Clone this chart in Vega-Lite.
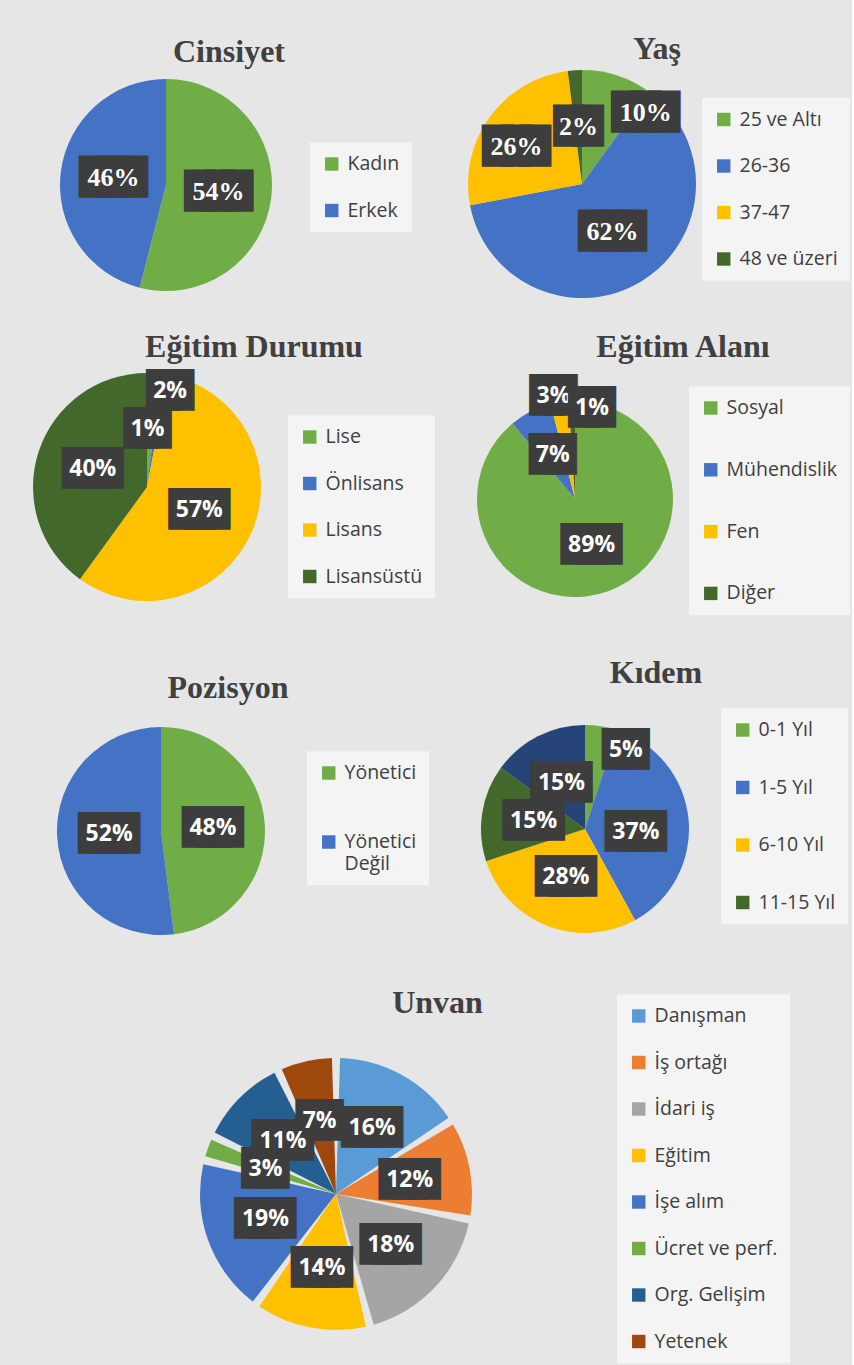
{
  "$schema": "https://vega.github.io/schema/vega-lite/v6.json",
  "background": "#e6e6e6",
  "padding": {"left": 7, "top": 33, "right": 2, "bottom": 12},
  "columns": 2,
  "align": "none",
  "bounds": "flush",
  "spacing": {"row": 64, "column": -345},
  "resolve": {"scale": {"color": "independent", "theta": "independent"}, "legend": {"color": "independent"}},
  "datasets": {
    "cinsiyet": [{"c": "Kadın", "v": 0.54, "k": 1}, {"c": "Erkek", "v": 0.46, "k": 2}],
    "yas": [{"c": "25 ve Altı", "v": 0.10, "k": 1}, {"c": "26-36", "v": 0.62, "k": 2}, {"c": "37-47", "v": 0.26, "k": 3}, {"c": "48 ve üzeri", "v": 0.02, "k": 4}],
    "egitimDurumu": [{"c": "Lise", "v": 0.02, "k": 1}, {"c": "Önlisans", "v": 0.01, "k": 2}, {"c": "Lisans", "v": 0.57, "k": 3}, {"c": "Lisansüstü", "v": 0.40, "k": 4}],
    "egitimAlani": [{"c": "Sosyal", "v": 0.89, "k": 1}, {"c": "Mühendislik", "v": 0.07, "k": 2}, {"c": "Fen", "v": 0.03, "k": 3}, {"c": "Diğer", "v": 0.01, "k": 4}],
    "pozisyon": [{"c": "Yönetici", "v": 0.48, "k": 1}, {"c": "Yönetici Değil", "v": 0.52, "k": 2}],
    "kidem": [{"c": "0-1 Yıl", "v": 0.05, "k": 1}, {"c": "1-5 Yıl", "v": 0.37, "k": 2}, {"c": "6-10 Yıl", "v": 0.28, "k": 3}, {"c": "11-15 Yıl", "v": 0.15, "k": 4}, {"c": "16 Yıl ve üzeri", "v": 0.15, "k": 5}],
    "unvan": [{"c": "Danışman", "v": 0.16, "k": 1}, {"c": "İş ortağı", "v": 0.12, "k": 2}, {"c": "İdari iş", "v": 0.18, "k": 3}, {"c": "Eğitim", "v": 0.14, "k": 4}, {"c": "İşe alım", "v": 0.19, "k": 5}, {"c": "Ücret ve perf.", "v": 0.03, "k": 6}, {"c": "Org. Gelişim", "v": 0.11, "k": 7}, {"c": "Yetenek", "v": 0.07, "k": 8}]
  },
  "concat": [
    {
      "width": 318, "height": 232,
      "title": {"text": "Cinsiyet", "dx": 63, "offset": 0},
      "data": {"name": "cinsiyet"},
      "encoding": {"theta": {"field": "v", "type": "quantitative", "stack": true}, "order": {"field": "k", "type": "quantitative"}},
      "layer": [
        {"mark": {"type": "arc", "radius": 106},
         "encoding": {"color": {"field": "c", "type": "nominal", "scale": {"domain": ["Kadın", "Erkek"], "range": ["#70AD47", "#4472C4"]}, "legend": {"title": null, "legendX": 303, "legendY": 73.25, "rowPadding": 25.5}}}},
        {"mark": {"type": "text", "radius": 53, "font": "DejaVu Sans", "fontSize": 24.2, "color": "#3d3d3d", "stroke": "#3d3d3d", "strokeWidth": 13.4, "strokeJoin": "miter"},
         "encoding": {"detail": {"field": "c", "type": "nominal"}, "text": {"condition": {"test": "datum.v < 0.1", "value": "██"}, "value": "███"}}},
        {"mark": {"type": "text", "radius": 53, "font": "Liberation Serif", "fontWeight": "bold", "fontSize": 26, "color": "white"},
         "encoding": {"detail": {"field": "c", "type": "nominal"}, "text": {"field": "v", "type": "quantitative", "format": ".0%"}}}
      ]
    },
    {
      "width": 524, "height": 230,
      "title": {"text": "Yaş", "dx": 75, "offset": 3},
      "data": {"name": "yas"},
      "encoding": {"theta": {"field": "v", "type": "quantitative", "stack": true}, "order": {"field": "k", "type": "quantitative"}},
      "layer": [
        {"mark": {"type": "arc", "radius": 114},
         "encoding": {"color": {"field": "c", "type": "nominal", "scale": {"domain": ["25 ve Altı", "26-36", "37-47", "48 ve üzeri"], "range": ["#70AD47", "#4472C4", "#FFC000", "#43682B"]}, "legend": {"title": null, "legendX": 382, "legendY": 28.75, "rowPadding": 25.5}}}},
        {"mark": {"type": "text", "radius": 57, "font": "DejaVu Sans", "fontSize": 24.2, "color": "#3d3d3d", "stroke": "#3d3d3d", "strokeWidth": 13.4, "strokeJoin": "miter"},
         "encoding": {"detail": {"field": "c", "type": "nominal"}, "opacity": {"condition": {"test": "datum.c == '26-36' || datum.c == '48 ve üzeri'", "value": 1}, "value": 0}, "text": {"condition": {"test": "datum.v < 0.1", "value": "██"}, "value": "███"}}},
        {"mark": {"type": "text", "radius": 57, "font": "Liberation Serif", "fontWeight": "bold", "fontSize": 26, "color": "white"},
         "encoding": {"detail": {"field": "c", "type": "nominal"}, "opacity": {"condition": {"test": "datum.c == '26-36' || datum.c == '48 ve üzeri'", "value": 1}, "value": 0}, "text": {"field": "v", "type": "quantitative", "format": ".0%"}}},
        {"mark": {"type": "text", "radius": 75, "thetaOffset": -0.12, "font": "DejaVu Sans", "fontSize": 24.2, "color": "#3d3d3d", "stroke": "#3d3d3d", "strokeWidth": 13.4, "strokeJoin": "miter"},
         "encoding": {"detail": {"field": "c", "type": "nominal"}, "opacity": {"condition": {"test": "datum.c == '37-47'", "value": 1}, "value": 0}, "text": {"condition": {"test": "datum.v < 0.1", "value": "██"}, "value": "███"}}},
        {"mark": {"type": "text", "radius": 75, "thetaOffset": -0.12, "font": "Liberation Serif", "fontWeight": "bold", "fontSize": 26, "color": "white"},
         "encoding": {"detail": {"field": "c", "type": "nominal"}, "opacity": {"condition": {"test": "datum.c == '37-47'", "value": 1}, "value": 0}, "text": {"field": "v", "type": "quantitative", "format": ".0%"}}},
        {"mark": {"type": "text", "radius": 95, "thetaOffset": 0.42, "font": "DejaVu Sans", "fontSize": 24.2, "color": "#3d3d3d", "stroke": "#3d3d3d", "strokeWidth": 13.4, "strokeJoin": "miter"},
         "encoding": {"detail": {"field": "c", "type": "nominal"}, "opacity": {"condition": {"test": "datum.c == '25 ve Altı'", "value": 1}, "value": 0}, "text": {"condition": {"test": "datum.v < 0.1", "value": "██"}, "value": "███"}}},
        {"mark": {"type": "text", "radius": 95, "thetaOffset": 0.42, "font": "Liberation Serif", "fontWeight": "bold", "fontSize": 26, "color": "white"},
         "encoding": {"detail": {"field": "c", "type": "nominal"}, "opacity": {"condition": {"test": "datum.c == '25 ve Altı'", "value": 1}, "value": 0}, "text": {"field": "v", "type": "quantitative", "format": ".0%"}}}
      ]
    },
    {
      "width": 280, "height": 244,
      "title": {"text": "Eğitim Durumu", "dx": 107, "offset": 1},
      "data": {"name": "egitimDurumu"},
      "encoding": {"theta": {"field": "v", "type": "quantitative", "stack": true}, "order": {"field": "k", "type": "quantitative"}},
      "layer": [
        {"mark": {"type": "arc", "radius": 114},
         "encoding": {"color": {"field": "c", "type": "nominal", "scale": {"domain": ["Lise", "Önlisans", "Lisans", "Lisansüstü"], "range": ["#70AD47", "#4472C4", "#FFC000", "#43682B"]}, "legend": {"title": null, "legendX": 281, "legendY": 50.25, "rowPadding": 25.5}}}},
        {"mark": {"type": "text", "radius": 57, "font": "DejaVu Sans", "fontSize": 18.3, "color": "#3d3d3d", "stroke": "#3d3d3d", "strokeWidth": 20, "strokeJoin": "miter"},
         "encoding": {"detail": {"field": "c", "type": "nominal"}, "opacity": {"condition": {"test": "datum.v > 0.05", "value": 1}, "value": 0}, "text": {"condition": {"test": "datum.v < 0.1", "value": "██"}, "value": "███"}}},
        {"mark": {"type": "text", "radius": 57, "font": "Open Sans", "fontWeight": "bold", "fontSize": 23, "color": "white"},
         "encoding": {"detail": {"field": "c", "type": "nominal"}, "opacity": {"condition": {"test": "datum.v > 0.05", "value": 1}, "value": 0}, "text": {"field": "v", "type": "quantitative", "format": ".0%"}}},
        {"mark": {"type": "text", "radius": 99, "thetaOffset": 0.173, "font": "DejaVu Sans", "fontSize": 18.3, "color": "#3d3d3d", "stroke": "#3d3d3d", "strokeWidth": 20, "strokeJoin": "miter"},
         "encoding": {"detail": {"field": "c", "type": "nominal"}, "opacity": {"condition": {"test": "datum.c == 'Lise'", "value": 1}, "value": 0}, "text": {"condition": {"test": "datum.v < 0.1", "value": "██"}, "value": "███"}}},
        {"mark": {"type": "text", "radius": 99, "thetaOffset": 0.173, "font": "Open Sans", "fontWeight": "bold", "fontSize": 23, "color": "white"},
         "encoding": {"detail": {"field": "c", "type": "nominal"}, "opacity": {"condition": {"test": "datum.c == 'Lise'", "value": 1}, "value": 0}, "text": {"field": "v", "type": "quantitative", "format": ".0%"}}},
        {"mark": {"type": "text", "radius": 58, "thetaOffset": -0.148, "font": "DejaVu Sans", "fontSize": 18.3, "color": "#3d3d3d", "stroke": "#3d3d3d", "strokeWidth": 20, "strokeJoin": "miter"},
         "encoding": {"detail": {"field": "c", "type": "nominal"}, "opacity": {"condition": {"test": "datum.c == 'Önlisans'", "value": 1}, "value": 0}, "text": {"condition": {"test": "datum.v < 0.1", "value": "██"}, "value": "███"}}},
        {"mark": {"type": "text", "radius": 58, "thetaOffset": -0.148, "font": "Open Sans", "fontWeight": "bold", "fontSize": 23, "color": "white"},
         "encoding": {"detail": {"field": "c", "type": "nominal"}, "opacity": {"condition": {"test": "datum.c == 'Önlisans'", "value": 1}, "value": 0}, "text": {"field": "v", "type": "quantitative", "format": ".0%"}}}
      ]
    },
    {
      "width": 510, "height": 268,
      "title": {"text": "Eğitim Alanı", "dx": 108, "offset": 1},
      "data": {"name": "egitimAlani"},
      "encoding": {"theta": {"field": "v", "type": "quantitative", "stack": true}, "order": {"field": "k", "type": "quantitative"}},
      "layer": [
        {"mark": {"type": "arc", "radius": 98},
         "encoding": {"color": {"field": "c", "type": "nominal", "scale": {"domain": ["Sosyal", "Mühendislik", "Fen", "Diğer"], "range": ["#70AD47", "#4472C4", "#FFC000", "#43682B"]}, "legend": {"title": null, "legendX": 369, "legendY": 21.25, "rowPadding": 40.8}}}},
        {"mark": {"type": "text", "radius": 49, "font": "DejaVu Sans", "fontSize": 18.3, "color": "#3d3d3d", "stroke": "#3d3d3d", "strokeWidth": 20, "strokeJoin": "miter"},
         "encoding": {"detail": {"field": "c", "type": "nominal"}, "opacity": {"condition": {"test": "datum.v > 0.05", "value": 1}, "value": 0}, "text": {"condition": {"test": "datum.v < 0.1", "value": "██"}, "value": "███"}}},
        {"mark": {"type": "text", "radius": 49, "font": "Open Sans", "fontWeight": "bold", "fontSize": 23, "color": "white"},
         "encoding": {"detail": {"field": "c", "type": "nominal"}, "opacity": {"condition": {"test": "datum.v > 0.05", "value": 1}, "value": 0}, "text": {"field": "v", "type": "quantitative", "format": ".0%"}}},
        {"mark": {"type": "text", "radius": 105, "thetaOffset": -0.05, "font": "DejaVu Sans", "fontSize": 18.3, "color": "#3d3d3d", "stroke": "#3d3d3d", "strokeWidth": 20, "strokeJoin": "miter"},
         "encoding": {"detail": {"field": "c", "type": "nominal"}, "opacity": {"condition": {"test": "datum.c == 'Fen'", "value": 1}, "value": 0}, "text": {"condition": {"test": "datum.v < 0.1", "value": "██"}, "value": "███"}}},
        {"mark": {"type": "text", "radius": 105, "thetaOffset": -0.05, "font": "Open Sans", "fontWeight": "bold", "fontSize": 23, "color": "white"},
         "encoding": {"detail": {"field": "c", "type": "nominal"}, "opacity": {"condition": {"test": "datum.c == 'Fen'", "value": 1}, "value": 0}, "text": {"field": "v", "type": "quantitative", "format": ".0%"}}},
        {"mark": {"type": "text", "radius": 93, "thetaOffset": 0.215, "font": "DejaVu Sans", "fontSize": 18.3, "color": "#3d3d3d", "stroke": "#3d3d3d", "strokeWidth": 20, "strokeJoin": "miter"},
         "encoding": {"detail": {"field": "c", "type": "nominal"}, "opacity": {"condition": {"test": "datum.c == 'Diğer'", "value": 1}, "value": 0}, "text": {"condition": {"test": "datum.v < 0.1", "value": "██"}, "value": "███"}}},
        {"mark": {"type": "text", "radius": 93, "thetaOffset": 0.215, "font": "Open Sans", "fontWeight": "bold", "fontSize": 23, "color": "white"},
         "encoding": {"detail": {"field": "c", "type": "nominal"}, "opacity": {"condition": {"test": "datum.c == 'Diğer'", "value": 1}, "value": 0}, "text": {"field": "v", "type": "quantitative", "format": ".0%"}}}
      ]
    },
    {
      "width": 308, "height": 268,
      "title": {"text": "Pozisyon", "dx": 67, "offset": -8},
      "data": {"name": "pozisyon"},
      "encoding": {"theta": {"field": "v", "type": "quantitative", "stack": true}, "order": {"field": "k", "type": "quantitative"}},
      "layer": [
        {"mark": {"type": "arc", "radius": 104},
         "encoding": {"color": {"field": "c", "type": "nominal", "scale": {"domain": ["Yönetici", "Yönetici Değil"], "range": ["#70AD47", "#4472C4"]}, "legend": {"title": null, "legendX": 300, "legendY": 54.25, "rowPadding": 48, "labelExpr": "datum.label == 'Yönetici Değil' ? ['Yönetici', 'Değil'] : datum.label"}}}},
        {"mark": {"type": "text", "radius": 52, "font": "DejaVu Sans", "fontSize": 18.3, "color": "#3d3d3d", "stroke": "#3d3d3d", "strokeWidth": 20, "strokeJoin": "miter"},
         "encoding": {"detail": {"field": "c", "type": "nominal"}, "text": {"condition": {"test": "datum.v < 0.1", "value": "██"}, "value": "███"}}},
        {"mark": {"type": "text", "radius": 52, "font": "Open Sans", "fontWeight": "bold", "fontSize": 23, "color": "white"},
         "encoding": {"detail": {"field": "c", "type": "nominal"}, "text": {"field": "v", "type": "quantitative", "format": ".0%"}}}
      ]
    },
    {
      "width": 530, "height": 264,
      "title": {"text": "Kıdem", "dx": 71, "offset": 7},
      "data": {"name": "kidem"},
      "encoding": {"theta": {"field": "v", "type": "quantitative", "stack": true}, "order": {"field": "k", "type": "quantitative"}},
      "layer": [
        {"mark": {"type": "arc", "radius": 104},
         "encoding": {"color": {"field": "c", "type": "nominal", "scale": {"domain": ["0-1 Yıl", "1-5 Yıl", "6-10 Yıl", "11-15 Yıl", "16 Yıl ve üzeri"], "range": ["#70AD47", "#4472C4", "#FFC000", "#43682B", "#264478"]}, "legend": {"title": null, "values": ["0-1 Yıl", "1-5 Yıl", "6-10 Yıl", "11-15 Yıl"], "legendX": 401, "legendY": 11.25, "rowPadding": 36.5}}}},
        {"mark": {"type": "text", "radius": 52, "font": "DejaVu Sans", "fontSize": 18.3, "color": "#3d3d3d", "stroke": "#3d3d3d", "strokeWidth": 20, "strokeJoin": "miter"},
         "encoding": {"detail": {"field": "c", "type": "nominal"}, "opacity": {"condition": {"test": "datum.v > 0.05 && datum.c != '1-5 Yıl'", "value": 1}, "value": 0}, "text": {"condition": {"test": "datum.v < 0.1", "value": "██"}, "value": "███"}}},
        {"mark": {"type": "text", "radius": 52, "font": "Open Sans", "fontWeight": "bold", "fontSize": 23, "color": "white"},
         "encoding": {"detail": {"field": "c", "type": "nominal"}, "opacity": {"condition": {"test": "datum.v > 0.05 && datum.c != '1-5 Yıl'", "value": 1}, "value": 0}, "text": {"field": "v", "type": "quantitative", "format": ".0%"}}},
        {"mark": {"type": "text", "radius": 51, "thetaOffset": 0.16, "font": "DejaVu Sans", "fontSize": 18.3, "color": "#3d3d3d", "stroke": "#3d3d3d", "strokeWidth": 20, "strokeJoin": "miter"},
         "encoding": {"detail": {"field": "c", "type": "nominal"}, "opacity": {"condition": {"test": "datum.c == '1-5 Yıl'", "value": 1}, "value": 0}, "text": {"condition": {"test": "datum.v < 0.1", "value": "██"}, "value": "███"}}},
        {"mark": {"type": "text", "radius": 51, "thetaOffset": 0.16, "font": "Open Sans", "fontWeight": "bold", "fontSize": 23, "color": "white"},
         "encoding": {"detail": {"field": "c", "type": "nominal"}, "opacity": {"condition": {"test": "datum.c == '1-5 Yıl'", "value": 1}, "value": 0}, "text": {"field": "v", "type": "quantitative", "format": ".0%"}}},
        {"mark": {"type": "text", "radius": 89, "thetaOffset": 0.32, "font": "DejaVu Sans", "fontSize": 18.3, "color": "#3d3d3d", "stroke": "#3d3d3d", "strokeWidth": 20, "strokeJoin": "miter"},
         "encoding": {"detail": {"field": "c", "type": "nominal"}, "opacity": {"condition": {"test": "datum.v <= 0.05", "value": 1}, "value": 0}, "text": {"condition": {"test": "datum.v < 0.1", "value": "██"}, "value": "███"}}},
        {"mark": {"type": "text", "radius": 89, "thetaOffset": 0.32, "font": "Open Sans", "fontWeight": "bold", "fontSize": 23, "color": "white"},
         "encoding": {"detail": {"field": "c", "type": "nominal"}, "opacity": {"condition": {"test": "datum.v <= 0.05", "value": 1}, "value": 0}, "text": {"field": "v", "type": "quantitative", "format": ".0%"}}}
      ]
    },
    {
      "width": 658, "height": 330,
      "title": {"text": "Unvan", "dx": 101.5, "offset": -26},
      "data": {"name": "unvan"},
      "encoding": {"theta": {"field": "v", "type": "quantitative", "stack": true}, "order": {"field": "k", "type": "quantitative"}},
      "layer": [
        {"mark": {"type": "arc", "radius": 136, "padAngle": 0.06},
         "encoding": {"color": {"field": "c", "type": "nominal", "scale": {"domain": ["Danışman", "İş ortağı", "İdari iş", "Eğitim", "İşe alım", "Ücret ve perf.", "Org. Gelişim", "Yetenek"], "range": ["#5B9BD5", "#ED7D31", "#A5A5A5", "#FFC000", "#4472C4", "#70AD47", "#255E91", "#9E480E"]}, "legend": {"title": null, "legendX": 610, "legendY": -34.75, "rowPadding": 25.5}}}},
        {"mark": {"type": "text", "radius": 75, "font": "DejaVu Sans", "fontSize": 18.3, "color": "#3d3d3d", "stroke": "#3d3d3d", "strokeWidth": 20, "strokeJoin": "miter"},
         "encoding": {"detail": {"field": "c", "type": "nominal"}, "text": {"condition": {"test": "datum.v < 0.1", "value": "██"}, "value": "███"}}},
        {"mark": {"type": "text", "radius": 75, "font": "Open Sans", "fontWeight": "bold", "fontSize": 23, "color": "white"},
         "encoding": {"detail": {"field": "c", "type": "nominal"}, "text": {"field": "v", "type": "quantitative", "format": ".0%"}}}
      ]
    }
  ],
  "config": {
    "view": {"stroke": null, "fill": "transparent"},
    "title": {"font": "Liberation Serif", "fontSize": 32, "fontWeight": "bold", "color": "#404040", "anchor": "middle", "frame": "group", "baseline": "alphabetic"},
    "legend": {"orient": "none", "symbolType": "square", "symbolSize": 180, "symbolStrokeWidth": 0, "labelFont": "Open Sans", "labelFontSize": 19.5, "labelColor": "#404040", "padding": 12, "fillColor": "rgba(255,255,255,0.55)", "labelOffset": 6, "labelLimit": 300}
  }
}
